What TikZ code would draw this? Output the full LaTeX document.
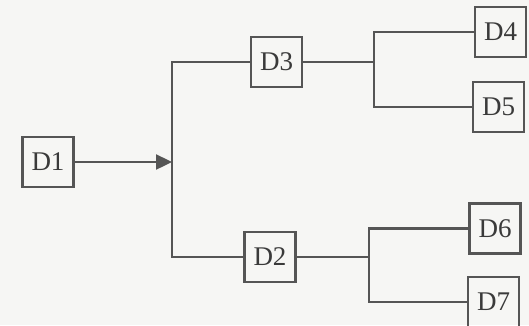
\documentclass[tikz,border=0pt]{standalone}
\usepackage{fontspec}
\setmainfont{Liberation Serif}
\usetikzlibrary{arrows.meta}
\definecolor{paper}{HTML}{F6F6F4}
\definecolor{wiregray}{HTML}{555555}
\definecolor{inkgray}{HTML}{3A3A3A}
\begin{document}
\begin{tikzpicture}[x=1pt,y=-1pt,
  dev/.style={draw=wiregray, line width=2.4pt, minimum width=51pt,
    minimum height=50pt, inner sep=0pt, text=inkgray,
    font=\fontsize{27}{27}\selectfont},
  wire/.style={draw=wiregray, line width=2.4pt}]
  % page
  \fill[paper] (0,0) rectangle (529,325);
  \useasboundingbox (0,0) rectangle (529,325);

  % devices
  \node[dev] (D1) at (48,162)    {D1};
  \node[dev] (D3) at (276.5,62)  {D3};
  \node[dev] (D2) at (270,257)   {D2};
  \node[dev] (D4) at (500.5,32)  {D4};
  \node[dev] (D5) at (498.5,107) {D5};
  \node[dev] (D6) at (495,228.5) {D6};
  \node[dev] (D7) at (493.5,302) {D7};

  % branch points
  \coordinate (bus)  at (172,162);
  \coordinate (upx)  at (374,62);
  \coordinate (lowx) at (369,257);

  % D1 feeds the main bus
  \draw[wire, -{Triangle[length=16pt,width=15pt]}] (D1.east) -- (bus);
  \draw[wire] (D3.west) -| (bus) |- (D2.west);

  % upper branch
  \draw[wire] (D3.east) -- (upx);
  \draw[wire] (D4.west) -| (upx) |- (D5.west);

  % lower branch
  \draw[wire] (D2.east) -- (lowx);
  \draw[wire] (D6.west) -| (lowx) |- (D7.west);
\end{tikzpicture}
\end{document}
